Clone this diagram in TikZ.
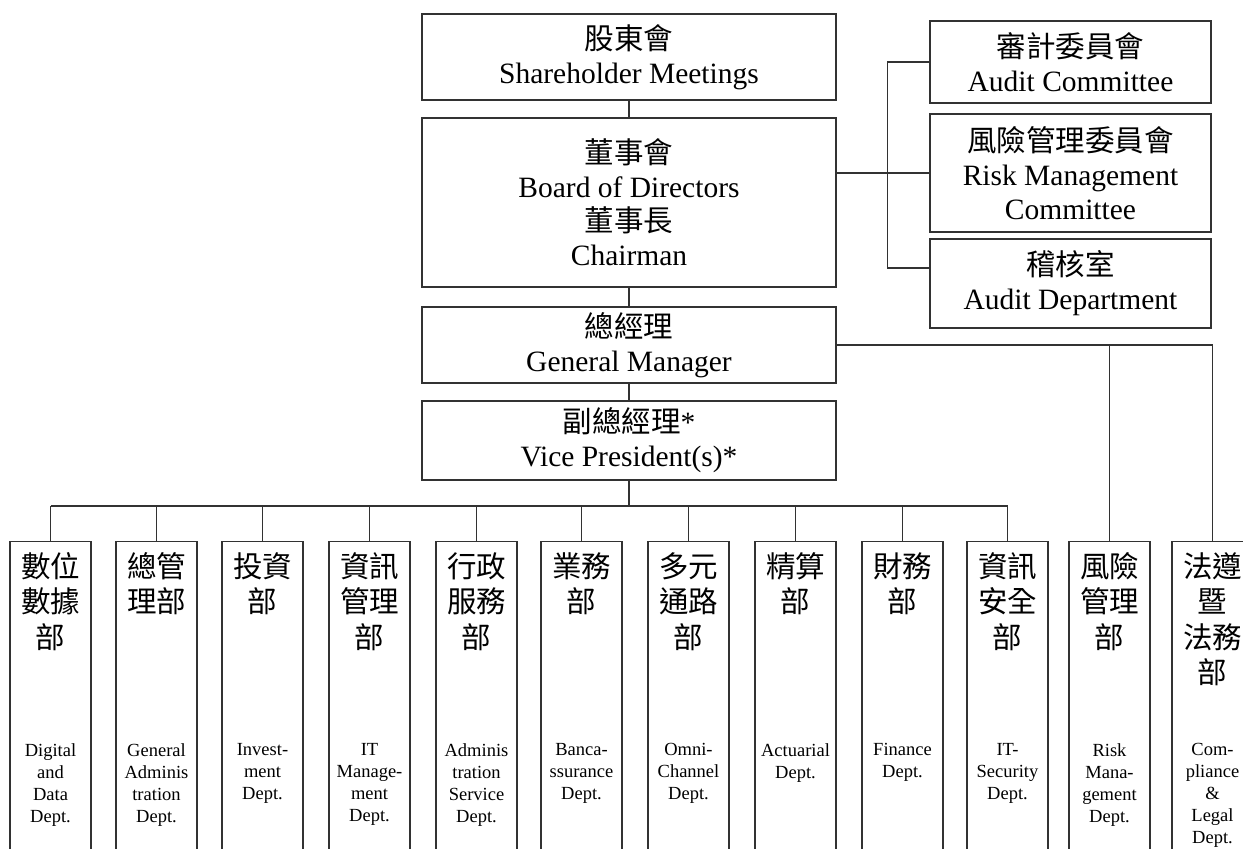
\documentclass[tikz,border=0pt]{standalone}
\usepackage{fontspec}
\usepackage{xcolor}
\usepackage{tikz}
\setmainfont{Liberation Serif}
\newfontfamily\cjk{Noto Sans CJK TC}
\definecolor{orgline}{RGB}{50,50,50}

\tikzset{
	unitbox/.style={draw=orgline, line width=1.3pt, align=center, inner sep=0pt, fill=white,
		font=\fontsize{29.5}{34}\selectfont},
	headbox/.style={unitbox, minimum width=414pt},
	sidebox/.style={unitbox, minimum width=281pt},
	deptbox/.style={draw=orgline, line width=1.3pt, anchor=north, minimum width=81pt, minimum height=330pt, inner sep=0pt},
	depttitle/.style={anchor=north, align=center, inner sep=0pt, font=\cjk\fontsize{29.5}{35.5}\selectfont},
	deptname/.style={anchor=north, align=center, inner sep=0pt, font=\fontsize{18.5}{22}\selectfont},
	link/.style={draw=orgline, line width=1.3pt}
}

\begin{document}
\begin{tikzpicture}[x=1pt,y=-1pt]
	\useasboundingbox (0,0) rectangle (1243,849);
	\clip (0,0) rectangle (1243,849);
	\fill[white] (0,0) rectangle (1243,849);

	\node[headbox, minimum height=86pt] (meeting) at (629,57) {{\cjk 股東會}\\Shareholder Meetings};
	\node[headbox, minimum height=169pt] (board) at (629,202.5) {{\cjk 董事會}\\Board of Directors\\{\cjk 董事長}\\Chairman};
	\node[headbox, minimum height=76pt] (gm) at (629,345) {{\cjk 總經理}\\General Manager};
	\node[headbox, minimum height=79pt] (vp) at (629,440.5) {{\cjk 副總經理}*\\Vice President(s)*};

	\node[sidebox, minimum height=82pt] (auditcom) at (1070.5,62) {{\cjk 審計委員會}\\Audit Committee};
	\node[sidebox, minimum height=118pt] (riskcom) at (1070.5,173) {{\cjk 風險管理委員會}\\Risk Management\\Committee};
	\node[sidebox, minimum height=89pt] (auditdept) at (1070.5,283.5) {{\cjk 稽核室}\\Audit Department};

	\foreach \i/\x/\zh/\en in {
		1/50.5/{數位\\數據\\部}/{Digital\\and\\Data\\Dept.},
		2/156.5/{總管\\理部}/{General\\Adminis\\tration\\Dept.},
		3/262.5/{投資\\部}/{Invest-\\ment\\Dept.},
		4/369.5/{資訊\\管理\\部}/{IT\\Manage-\\ment\\Dept.},
		5/476.5/{行政\\服務\\部}/{Adminis\\tration\\Service\\Dept.},
		6/581.5/{業務\\部}/{Banca-\\ssurance\\Dept.},
		7/688.5/{多元\\通路\\部}/{Omni-\\Channel\\Dept.},
		8/795.5/{精算\\部}/{Actuarial\\Dept.},
		9/902.5/{財務\\部}/{Finance\\Dept.},
		10/1007.5/{資訊\\安全\\部}/{IT-\\Security\\Dept.},
		11/1109.5/{風險\\管理\\部}/{Risk\\Mana-\\gement\\Dept.},
		12/1212.5/{法遵\\暨\\法務\\部}/{Com-\\pliance\\\&\\Legal\\Dept.}}{
		\node[deptbox] (dept\i) at (\x,541) {};
		\node[depttitle] (dept\i zh) at (\x,552) {\zh};
		\node[deptname] (dept\i en) at (\x,743) {\en};
	}

	\draw[link] (meeting.south) -- (board.north);
	\draw[link] (board.south) -- (gm.north);
	\draw[link] (gm.south) -- (vp.north);

	\draw[link] (board.east |- riskcom.west) -- (riskcom.west);
	\draw[link] (auditcom.west) -- ++(-42,0) |- ([yshift=15.5pt]auditdept.west);

	\draw[link] (gm.east) -| (dept12.north);
	\draw[link] (dept11.north) -- (dept11.north |- gm.east);

	\coordinate (bus) at (629,506);
	\draw[link] (vp.south) -- (bus);
	\draw[link] (dept1.north |- bus) -- (dept10.north |- bus);
	\foreach \i in {1,...,10}
		\draw[link] (dept\i.north) -- (dept\i.north |- bus);
\end{tikzpicture}
\end{document}
